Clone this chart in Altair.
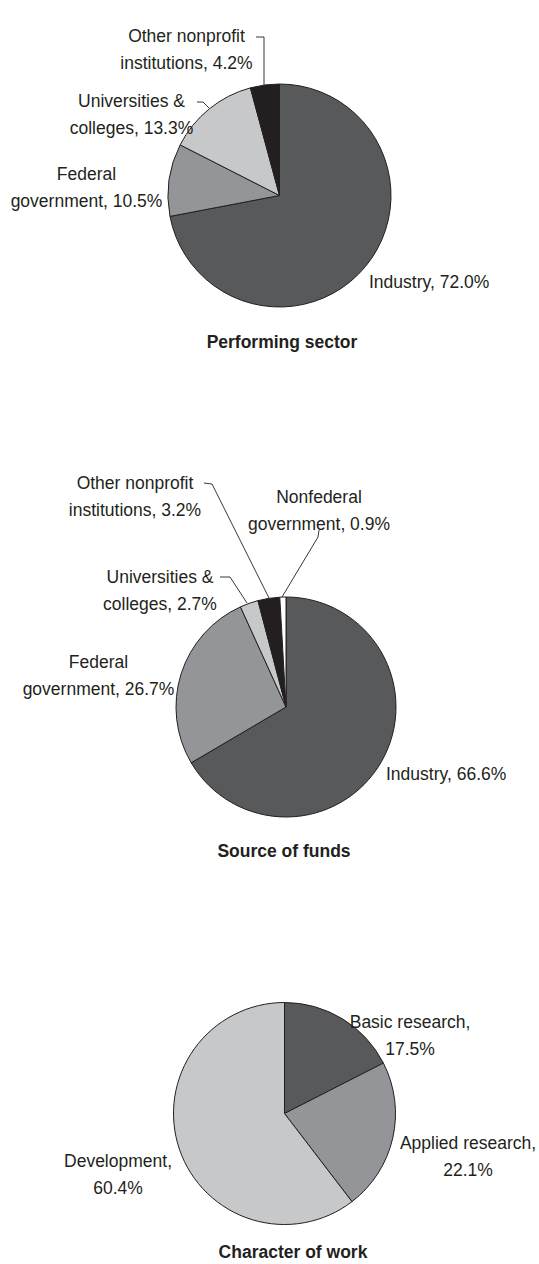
import altair as alt
import pandas as pd

# ---------------- data ----------------
pie_titles = ["Performing sector", "Source of funds", "Character of work"]

perf_categories = ["Industry", "Federal government", "Universities & colleges",
                   "Other nonprofit institutions"]
perf_values = [72.0, 10.5, 13.3, 4.2]
perf_label_fmt = ["Industry, {}%", "Federal\ngovernment, {}%", "Universities &\ncolleges, {}%",
                  "Other nonprofit\ninstitutions, {}%"]

funds_categories = ["Industry", "Federal government", "Universities & colleges",
                    "Other nonprofit institutions", "Nonfederal government"]
funds_values = [66.6, 26.7, 2.7, 3.2, 0.9]
funds_label_fmt = ["Industry, {}%", "Federal\ngovernment, {}%", "Universities &\ncolleges, {}%",
                   "Other nonprofit\ninstitutions, {}%", "Nonfederal\ngovernment, {}%"]

work_categories = ["Basic research", "Applied research", "Development"]
work_values = [17.5, 22.1, 60.4]
work_label_fmt = ["Basic research,\n{}%", "Applied research,\n{}%", "Development,\n{}%"]

color_domain = ["Industry", "Federal government", "Universities & colleges",
                "Other nonprofit institutions", "Nonfederal government",
                "Basic research", "Applied research", "Development"]
color_range = ["#58595b", "#939598", "#c7c8ca", "#231f20", "#ffffff",
               "#58595b", "#939598", "#c7c8ca"]

# ---------------- layout (pixels) ----------------
pie_centers = [(279.5, 195.5), (286, 707), (284.5, 1113.5)]
pie_radius = [111.5, 110, 111]
title_pos = [(282, 343), (284, 852), (293, 1253)]
# label anchor per slice: (x, y, align)
label_pos = [
    [(369, 283, "left"), (86.5, 175, "center"), (131.5, 101.5, "center"), (186.5, 36.5, "center")],
    [(386, 775, "left"), (98.5, 662.5, "center"), (160, 577.5, "center"), (135, 484, "center"),
     (319, 498, "center")],
    [(410, 1022.5, "center"), (468, 1143.5, "center"), (118, 1161.5, "center")],
]
leader_paths = [
    [(256, 37), (264, 37), (264, 85)],
    [(197, 102), (203, 102), (209, 108)],
    [(204, 483), (212, 484), (269, 598)],
    [(220, 577), (230, 577), (247, 603)],
    [(319, 530), (318, 537), (282, 597)],
]

FONT = "Liberation Sans"
INK = "#231f20"

groups = [(perf_categories, perf_values, perf_label_fmt),
          (funds_categories, funds_values, funds_label_fmt),
          (work_categories, work_values, work_label_fmt)]

layers = []
label_rows = []
for i, (cats, vals, fmts) in enumerate(groups):
    df = pd.DataFrame({"category": cats, "value": vals, "order": list(range(len(cats)))})
    cx, cy = pie_centers[i]
    layers.append(
        alt.Chart(df).mark_arc(radius=pie_radius[i], stroke=INK, strokeWidth=1)
        .encode(
            theta=alt.Theta("value:Q", stack="normalize"),
            order=alt.Order("order:Q"),
            color=alt.Color("category:N", scale=alt.Scale(domain=color_domain, range=color_range),
                            legend=None),
            x=alt.value(cx), y=alt.value(cy),
        )
    )
    for j, (f, v) in enumerate(zip(fmts, vals)):
        lx, ly, al = label_pos[i][j]
        label_rows.append({"text": f.format(f"{v:.1f}"), "lx": lx, "ly": ly, "align": al})

labels = pd.DataFrame(label_rows)
for al in ["center", "left"]:
    layers.append(
        alt.Chart(labels[labels["align"] == al]).mark_text(
            font=FONT, fontSize=17.5, color=INK, align=al, baseline="middle",
            lineBreak="\n", lineHeight=27,
        ).encode(x=alt.X("lx:Q", scale=None), y=alt.Y("ly:Q", scale=None), text="text:N")
    )

titles = pd.DataFrame({"text": pie_titles,
                       "tx": [p[0] for p in title_pos], "ty": [p[1] for p in title_pos]})
layers.append(
    alt.Chart(titles).mark_text(font=FONT, fontSize=17.5, fontWeight="bold", color=INK,
                                align="center", baseline="middle")
    .encode(x=alt.X("tx:Q", scale=None), y=alt.Y("ty:Q", scale=None), text="text:N")
)

lead_rows = []
for k, path in enumerate(leader_paths):
    for s, (px, py) in enumerate(path):
        lead_rows.append({"leader": k, "seq": s, "px": px, "py": py})
layers.append(
    alt.Chart(pd.DataFrame(lead_rows)).mark_line(color=INK, strokeWidth=0.9)
    .encode(x=alt.X("px:Q", scale=None), y=alt.Y("py:Q", scale=None),
            detail="leader:N", order="seq:Q")
)

chart = alt.layer(*layers).properties(
    width=539, height=1264, padding=0, autosize="none", background="white"
).configure_view(stroke=None)

chart.save("out.html", embed_options={"renderer": "svg", "actions": False})
